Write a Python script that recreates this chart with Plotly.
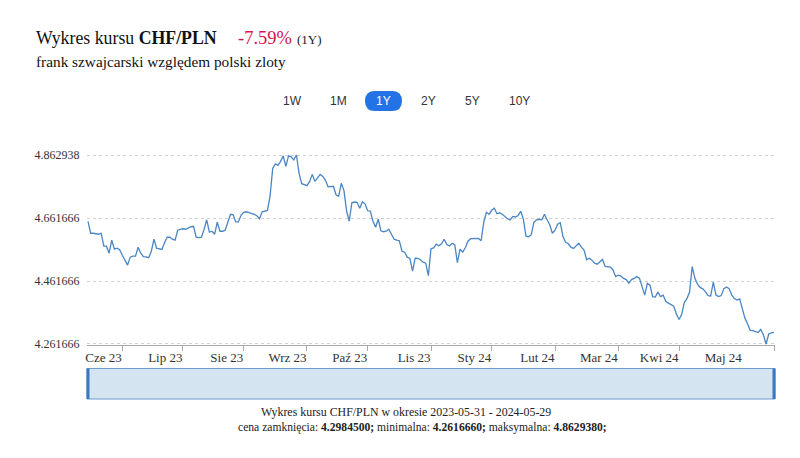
import plotly.graph_objects as go
import pandas as pd

# ---------------- data ----------------
dates = [d.strftime("%Y-%m-%d") for d in pd.bdate_range("2023-05-31", "2024-05-29")]

values = [
    4.6515, 4.6140, 4.6140, 4.6131, 4.6109, 4.6140, 4.5728, 4.5728, 4.5506, 4.5918,
    4.5633, 4.5664, 4.5617, 4.5442, 4.5283, 4.5125, 4.5379, 4.5410, 4.5410, 4.5696,
    4.5506, 4.5394, 4.5388, 4.5363, 4.5569, 4.5950, 4.5664, 4.5642, 4.5623, 4.5839,
    4.6013, 4.6013, 4.5950, 4.5918, 4.6236, 4.6267, 4.6283, 4.6267, 4.6321, 4.6347,
    4.6363, 4.6013, 4.5998, 4.6013, 4.6267, 4.6569, 4.6172, 4.6204, 4.6109, 4.6490,
    4.6204, 4.6204, 4.6236, 4.6490, 4.6744, 4.6728, 4.6499, 4.6499, 4.6712, 4.6807,
    4.6823, 4.6798, 4.6775, 4.6744, 4.6696, 4.6601, 4.6823, 4.6848, 4.6864, 4.7315,
    4.8204, 4.8347, 4.8299, 4.8426, 4.8601, 4.8267, 4.8601, 4.8569, 4.8474, 4.862938,
    4.8045, 4.7718, 4.7690, 4.7655, 4.7791, 4.8013, 4.7791, 4.7886, 4.8013, 4.7950,
    4.7823, 4.7617, 4.7617, 4.7633, 4.7363, 4.7315, 4.7728, 4.7506, 4.6855, 4.6521,
    4.7109, 4.7134, 4.7125, 4.6934, 4.7140, 4.7077, 4.6855, 4.6842, 4.6521, 4.6331,
    4.6585, 4.6220, 4.6188, 4.6204, 4.6267, 4.6093, 4.5950, 4.5918, 4.5902, 4.5569,
    4.5537, 4.5379, 4.5337, 4.4934, 4.5347, 4.5341, 4.5299, 4.5220, 4.5188, 4.4791,
    4.5648, 4.5674, 4.5791, 4.5744, 4.5807, 4.5950, 4.5782, 4.5737, 4.5823, 4.5775,
    4.5204, 4.5633, 4.5537, 4.5680, 4.5886, 4.5966, 4.5972, 4.5972, 4.5972, 4.5902,
    4.6490, 4.6807, 4.6744, 4.6871, 4.6934, 4.6760, 4.6791, 4.6744, 4.6664, 4.6601,
    4.6563, 4.6674, 4.6658, 4.6706, 4.6839, 4.6585, 4.6045, 4.6029, 4.6093, 4.6490,
    4.6569, 4.6585, 4.6569, 4.6744, 4.6569, 4.6410, 4.6140, 4.6236, 4.6426, 4.6474,
    4.6045, 4.5855, 4.5813, 4.5696, 4.5658, 4.5728, 4.5823, 4.5696, 4.5601, 4.5299,
    4.5347, 4.5283, 4.5188, 4.5156, 4.5226, 4.5306, 4.5083, 4.5077, 4.5061, 4.4972,
    4.4760, 4.4807, 4.4775, 4.4702, 4.4664, 4.4553, 4.4664, 4.4702, 4.4760, 4.4712,
    4.4458, 4.4172, 4.4544, 4.4490, 4.4125, 4.4109, 4.4267, 4.4125, 4.4172, 4.3966,
    4.3918, 4.3864, 4.3823, 4.3569, 4.3394, 4.3553, 4.3934, 4.4061, 4.4267, 4.5077,
    4.4712, 4.4521, 4.4417, 4.4372, 4.4283, 4.4156, 4.4140, 4.4585, 4.4172, 4.4125,
    4.4156, 4.4379, 4.4433, 4.4379, 4.4172, 4.4061, 4.4013, 4.4052, 4.3728, 4.3433,
    4.3252, 4.3052, 4.3045, 4.3023, 4.2982, 4.3083, 4.2902, 4.261666, 4.2934, 4.2972,
    4.29845,
]

month_labels = ["Cze 23", "Lip 23", "Sie 23", "Wrz 23", "Paź 23", "Lis 23",
                "Sty 24", "Lut 24", "Mar 24", "Kwi 24", "Maj 24"]
range_buttons = ["1W", "1M", "1Y", "2Y", "5Y", "10Y"]
active_button = "1Y"

# ---------------- derived numbers ----------------
n = len(values)
y_min, y_max = min(values), max(values)
close = values[-1]
change_pct = (values[-1] / values[0] - 1) * 100
y_ticks = [y_min, y_min + 0.2, y_min + 0.4, y_max]

label_dates = [dates[i] for i in (13, 36, 59, 83, 106, 130, 153, 177, 201, 224, 248)]
tick_mark_pos = [13, 36, 59, 83, 106, 130, 153, 177, 201, 224, 260]

# ---------------- layout helpers ----------------
W, H = 800, 458
L, R, T, B = 87, 25, 154, 113
def px(x):
    return (x - L) / (W - L - R)
def py(y):
    return (H - B - y) / (H - T - B)

SERIF = "Liberation Serif"
SANS = "Liberation Sans"
xr = [-0.38, n - 1 + 0.38]

fig = go.Figure()
fig.add_trace(go.Scatter(
    x=dates, y=values, mode="lines",
    line=dict(color="#4a86c3", width=1.3),
    hovertemplate="%{x}: %{y:.6f}<extra></extra>",
))
fig.add_trace(go.Scatter(x=[], y=[], xaxis="x2", showlegend=False))

annotations = [
    dict(text="Wykres kursu <b>CHF/PLN</b>", x=px(34), y=py(38), xanchor="left",
         yanchor="middle", font=dict(family=SERIF, size=17.8, color="#111")),
    dict(text=f"{change_pct:.2f}%", x=px(235.5), y=py(38), xanchor="left",
         yanchor="middle", font=dict(family=SERIF, size=18.5, color="#d2174f")),
    dict(text=f"({active_button})", x=px(295), y=py(40), xanchor="left",
         yanchor="middle", font=dict(family=SERIF, size=13, color="#222")),
    dict(text="frank szwajcarski względem polski zloty", x=px(34), y=py(61),
         xanchor="left", yanchor="middle",
         font=dict(family=SERIF, size=15.3, color="#111")),
    dict(text=f"Wykres kursu CHF/PLN w okresie {dates[0]} - {dates[-1]}",
         x=px(406), y=py(411.5), xanchor="center", yanchor="middle",
         font=dict(family=SERIF, size=11.9, color="#222")),
    dict(text=(f"cena zamknięcia: <b>{close:.7f};</b> minimalna: <b>{y_min:.7f};</b> "
               f"maksymalna: <b>{y_max:.7f};</b>"),
         x=px(422.5), y=py(427.5), xanchor="center", yanchor="middle",
         font=dict(family=SERIF, size=11.6, color="#222")),
]
btn_x = [292, 338.5, 383.5, 428.5, 472.5, 519]
for lab, bx in zip(range_buttons, btn_x):
    annotations.append(dict(
        text=lab, x=px(bx), y=py(101), xanchor="center", yanchor="middle",
        font=dict(family=SANS, size=12, color="#ffffff" if lab == active_button else "#333")))
for a in annotations:
    a.update(xref="paper", yref="paper", showarrow=False)

def pill(x0, x1, y0, y1, r):
    X = lambda v: f"{px(v):.5f}"
    Y = lambda v: f"{py(v):.5f}"
    return (f"M {X(x0+r)},{Y(y0)} L {X(x1-r)},{Y(y0)} Q {X(x1)},{Y(y0)} {X(x1)},{Y(y0+r)} "
            f"L {X(x1)},{Y(y1-r)} Q {X(x1)},{Y(y1)} {X(x1-r)},{Y(y1)} "
            f"L {X(x0+r)},{Y(y1)} Q {X(x0)},{Y(y1)} {X(x0)},{Y(y1-r)} "
            f"L {X(x0)},{Y(y0+r)} Q {X(x0)},{Y(y0)} {X(x0+r)},{Y(y0)} Z")

shapes = [
    dict(type="path", path=pill(365, 402, 91, 111, 10), xref="paper", yref="paper",
         fillcolor="#2372e6", line=dict(width=0), layer="below"),
    dict(type="rect", xref="paper", yref="paper", x0=px(87), x1=px(775),
         y0=py(399), y1=py(368.5), fillcolor="#d4e4f1",
         line=dict(color="#6f9ccf", width=1)),
    dict(type="rect", xref="paper", yref="paper", x0=px(86.5), x1=px(89.5),
         y0=py(399), y1=py(368.5), fillcolor="#3b78c2", line=dict(width=0)),
    dict(type="rect", xref="paper", yref="paper", x0=px(772.5), x1=px(775.5),
         y0=py(399), y1=py(368.5), fillcolor="#3b78c2", line=dict(width=0)),
]

fig.update_layout(
    width=W, height=H,
    margin=dict(l=L, r=R, t=T, b=B, pad=0),
    paper_bgcolor="white", plot_bgcolor="white",
    showlegend=False,
    annotations=annotations,
    shapes=shapes,
    xaxis=dict(
        type="category", range=xr, tickmode="array",
        tickvals=label_dates, ticktext=month_labels,
        ticks="", ticklabelposition="outside left",
        showgrid=False, zeroline=False,
        showline=True, linecolor="#a8a8a8", linewidth=1,
        tickfont=dict(family=SERIF, size=13, color="#333"),
    ),
    xaxis2=dict(
        overlaying="x", anchor="y", side="bottom", type="linear", range=xr,
        tickmode="array", tickvals=tick_mark_pos, ticks="outside", ticklen=5,
        tickcolor="#a8a8a8", showticklabels=False, showgrid=False,
        showline=False, zeroline=False,
    ),
    yaxis=dict(
        range=[y_min - 0.0032, y_max + 0.0032], tickmode="array",
        tickvals=y_ticks, ticktext=[f"{v:.6f}" for v in y_ticks],
        showgrid=True, gridcolor="#d2d2d2", griddash="dot", gridwidth=1,
        zeroline=False, showline=False,
        ticks="outside", ticklen=4, tickcolor="rgba(0,0,0,0)",
        tickfont=dict(family=SERIF, size=12, color="#333"),
    ),
)

fig.write_html("out.html")
